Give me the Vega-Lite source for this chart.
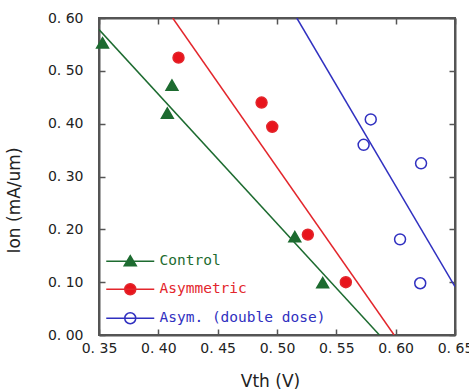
{
  "$schema": "https://vega.github.io/schema/vega-lite/v6.json",
  "width": 356,
  "height": 317,
  "autosize": {"type": "none"},
  "padding": {"left": 99, "top": 18, "right": 14, "bottom": 57},
  "background": "white",
  "config": {
    "view": {"stroke": "#555", "strokeWidth": 2},
    "axis": {
      "domainColor": "#555", "domainWidth": 2, "tickColor": "#555", "tickWidth": 1.5, "tickSize": -6,
      "grid": false, "labelFont": "DejaVu Sans", "labelFontSize": 14, "labelColor": "#222",
      "titleFont": "DejaVu Sans", "titleFontSize": 17, "titleFontWeight": "normal", "titleColor": "#222"
    }
  },
  "datasets": {
    "points": [
      {"series": "Control", "vth": 0.353, "ion": 0.553},
      {"series": "Control", "vth": 0.4115, "ion": 0.473},
      {"series": "Control", "vth": 0.4076, "ion": 0.42},
      {"series": "Control", "vth": 0.515, "ion": 0.186},
      {"series": "Control", "vth": 0.5385, "ion": 0.099},
      {"series": "Asymmetric", "vth": 0.417, "ion": 0.525},
      {"series": "Asymmetric", "vth": 0.487, "ion": 0.44},
      {"series": "Asymmetric", "vth": 0.496, "ion": 0.394},
      {"series": "Asymmetric", "vth": 0.526, "ion": 0.19},
      {"series": "Asymmetric", "vth": 0.558, "ion": 0.1},
      {"series": "Asym. (double dose)", "vth": 0.579, "ion": 0.408},
      {"series": "Asym. (double dose)", "vth": 0.573, "ion": 0.36},
      {"series": "Asym. (double dose)", "vth": 0.6214, "ion": 0.325},
      {"series": "Asym. (double dose)", "vth": 0.6037, "ion": 0.181},
      {"series": "Asym. (double dose)", "vth": 0.6207, "ion": 0.098}
    ],
    "lines": [
      {"series": "Control", "vth": 0.35, "ion": 0.578},
      {"series": "Control", "vth": 0.5863, "ion": 0.0},
      {"series": "Asymmetric", "vth": 0.4121, "ion": 0.6},
      {"series": "Asymmetric", "vth": 0.5987, "ion": 0.0},
      {"series": "Asym. (double dose)", "vth": 0.5167, "ion": 0.6},
      {"series": "Asym. (double dose)", "vth": 0.65, "ion": 0.0914}
    ]
  },
  "layer": [
    {
      "data": {"name": "lines"},
      "mark": {"type": "line", "strokeWidth": 1.5, "clip": true},
      "encoding": {
        "x": {
          "field": "vth", "type": "quantitative",
          "scale": {"domain": [0.35, 0.65], "nice": false, "zero": false},
          "axis": {
            "values": [0.35, 0.4, 0.45, 0.5, 0.55, 0.6, 0.65],
            "labelExpr": "replace(format(datum.value,'.2f'),'.','. ')",
            "labelFlush": false, "labelOverlap": false, "labelPadding": 12,
            "title": "Vth (V)", "titleX": 171, "titleY": 38
          }
        },
        "y": {
          "field": "ion", "type": "quantitative",
          "scale": {"domain": [0, 0.6], "nice": false, "zero": false},
          "axis": {
            "values": [0, 0.1, 0.2, 0.3, 0.4, 0.5, 0.6],
            "labelExpr": "replace(format(datum.value,'.2f'),'.','. ')",
            "labelFlush": false, "labelOverlap": false, "labelPadding": 22,
            "title": "Ion (mA/um)", "titleX": -76, "titleY": 182
          }
        },
        "stroke": {
          "field": "series", "type": "nominal",
          "scale": {
            "domain": ["Control", "Asymmetric", "Asym. (double dose)"],
            "range": ["#1d6b30", "#e3262c", "#3030c0"]
          },
          "legend": {
            "title": null, "orient": "none", "legendX": 3, "legendY": 236,
            "symbolSize": 100, "symbolOffset": 21, "labelOffset": 22,
            "labelFont": "DejaVu Sans Mono", "labelFontSize": 14.5, "labelLimit": 300,
            "rowPadding": 11,
            "encode": {
              "symbols": {
                "update": {
                  "shape": {"signal": "datum.value === 'Control' ? 'M-4.8,0L4.8,0M0,-1.1L1.2,0.9L-1.2,0.9Z' : 'M-4.8,0L4.8,0M-1.1,0A1.1,1.1,0,1,1,1.1,0A1.1,1.1,0,1,1,-1.1,0Z'"},
                  "fill": {"signal": "datum.value === 'Control' ? '#1d6b30' : datum.value === 'Asymmetric' ? '#e8141c' : 'transparent'"},
                  "stroke": {"signal": "datum.value === 'Control' ? '#1d6b30' : datum.value === 'Asymmetric' ? '#e3262c' : '#3030c0'"},
                  "strokeWidth": {"value": 1.5},
                  "opacity": {"value": 1}
                }
              },
              "labels": {
                "update": {
                  "fill": {"signal": "datum.value === 'Control' ? '#1d6b30' : datum.value === 'Asymmetric' ? '#e3262c' : '#3030c0'"}
                }
              }
            }
          }
        }
      }
    },
    {
      "data": {"name": "points"},
      "transform": [{"filter": "datum.series === 'Control'"}],
      "mark": {"type": "point", "shape": "triangle-up", "strokeWidth": 1.5, "size": 140, "opacity": 1},
      "encoding": {
        "x": {"field": "vth", "type": "quantitative", "axis": null},
        "y": {"field": "ion", "type": "quantitative", "axis": null},
        "fill": {
          "field": "series", "type": "nominal",
          "scale": {"domain": ["Control", "Asymmetric", "Asym. (double dose)"], "range": ["#1d6b30", "#e8141c", "transparent"]},
          "legend": null
        },
        "stroke": {"field": "series", "type": "nominal"}
      }
    },
    {
      "data": {"name": "points"},
      "transform": [{"filter": "datum.series !== 'Control'"}],
      "mark": {"type": "point", "shape": "circle", "strokeWidth": 1.5, "size": 120, "opacity": 1},
      "encoding": {
        "x": {"field": "vth", "type": "quantitative", "axis": null},
        "y": {"field": "ion", "type": "quantitative", "axis": null},
        "fill": {"field": "series", "type": "nominal", "legend": null},
        "stroke": {"field": "series", "type": "nominal"}
      }
    },
    {
      "data": {"name": "lines"},
      "mark": {"type": "point", "opacity": 0},
      "encoding": {
        "x": {
          "field": "vth", "type": "quantitative",
          "axis": {"orient": "top", "labels": false, "title": null, "values": [0.35, 0.4, 0.45, 0.5, 0.55, 0.6, 0.65]}
        },
        "y": {
          "field": "ion", "type": "quantitative",
          "axis": {"orient": "right", "labels": false, "title": null, "values": [0, 0.1, 0.2, 0.3, 0.4, 0.5, 0.6]}
        }
      }
    }
  ],
  "resolve": {"axis": {"x": "independent", "y": "independent"}}
}
